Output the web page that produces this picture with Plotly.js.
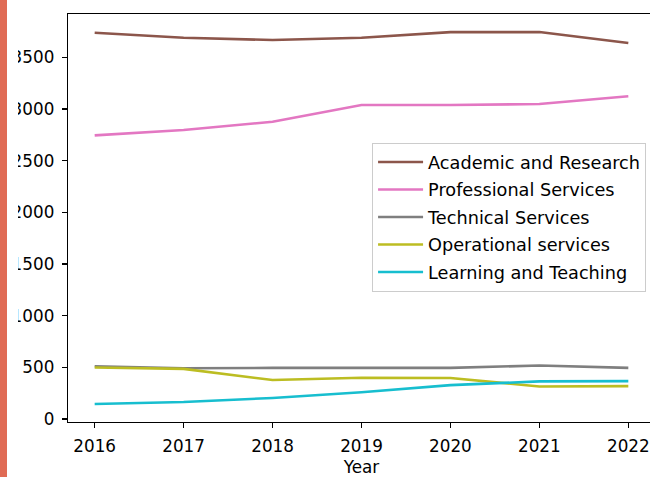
<!DOCTYPE html>
<html>
<head>
<meta charset="utf-8">
<script src="https://cdn.plot.ly/plotly-3.0.1.min.js"></script>
<style>
html,body{margin:0;padding:0;width:650px;height:477px;overflow:hidden;background:#fff;}
#chart{position:absolute;left:0;top:0;}
#mask{position:absolute;left:7px;top:0;width:11px;height:477px;background:#fff;}
#bar{position:absolute;left:0;top:0;width:7px;height:477px;background:#e06b55;}
</style>
</head>
<body>
<div id="chart"></div>
<div id="mask"></div>
<div id="bar"></div>
<script>
const years = [2016, 2017, 2018, 2019, 2020, 2021, 2022];
const seriesNames = ["Academic and Research", "Professional Services", "Technical Services", "Operational services", "Learning and Teaching"];
const academicResearch = [3739, 3690, 3668, 3690, 3745, 3745, 3639];
const professionalServices = [2745, 2797, 2877, 3039, 3039, 3048, 3123];
const technicalServices = [510, 490, 494, 496, 494, 517, 494];
const operationalServices = [497, 484, 376, 398, 396, 314, 317];
const learningTeaching = [144, 163, 203, 258, 327, 363, 366];
const yTicks = [0, 500, 1000, 1500, 2000, 2500, 3000, 3500];
const colors = ["#8c564b", "#e377c2", "#7f7f7f", "#bcbd22", "#17becf"];

const allSeries = [academicResearch, professionalServices, technicalServices, operationalServices, learningTeaching];
const traces = allSeries.map((vals, i) => ({
  x: years, y: vals, name: seriesNames[i], type: "scatter", mode: "lines",
  legendgroup: "g" + i,
  line: {color: colors[i], width: 2.6}
}));

const tickFont = {family: "DejaVu Sans, sans-serif", size: 16.8, color: "#000"};
const legFont = {family: "DejaVu Sans, sans-serif", size: 17.7, color: "#000"};
const layout = {
  width: 660, height: 477,
  margin: {l: 68, r: 5, t: 14, b: 55},
  paper_bgcolor: "#fff", plot_bgcolor: "#fff",
  font: tickFont,
  showlegend: true,
  legend: {
    x: 0.518, y: 0.684, xanchor: "left", yanchor: "top",
    bgcolor: "rgba(255,255,255,0.8)", bordercolor: "#cccccc", borderwidth: 1,
    font: legFont, tracegroupgap: 1.5, itemwidth: 45
  },
  xaxis: {
    range: [2015.7, 2022.3], tickvals: years, ticktext: years.map(String),
    showgrid: false, zeroline: false, showline: true, mirror: true,
    linecolor: "#000", linewidth: 1.3, ticks: "outside", ticklen: 5, tickwidth: 1.3, tickcolor: "#000",
    ticklabelstandoff: 4, tickfont: tickFont,
    title: {text: "Year", font: tickFont, standoff: 12}
  },
  yaxis: {
    range: [-30, 3920], tickvals: yTicks,
    showgrid: false, zeroline: false, showline: true, mirror: true,
    linecolor: "#000", linewidth: 1.3, ticks: "outside", ticklen: 5, tickwidth: 1.3, tickcolor: "#000",
    ticklabelstandoff: 4, tickfont: tickFont
  }
};
Plotly.newPlot("chart", traces, layout, {staticPlot: true, displayModeBar: false});
</script>
</body>
</html>
